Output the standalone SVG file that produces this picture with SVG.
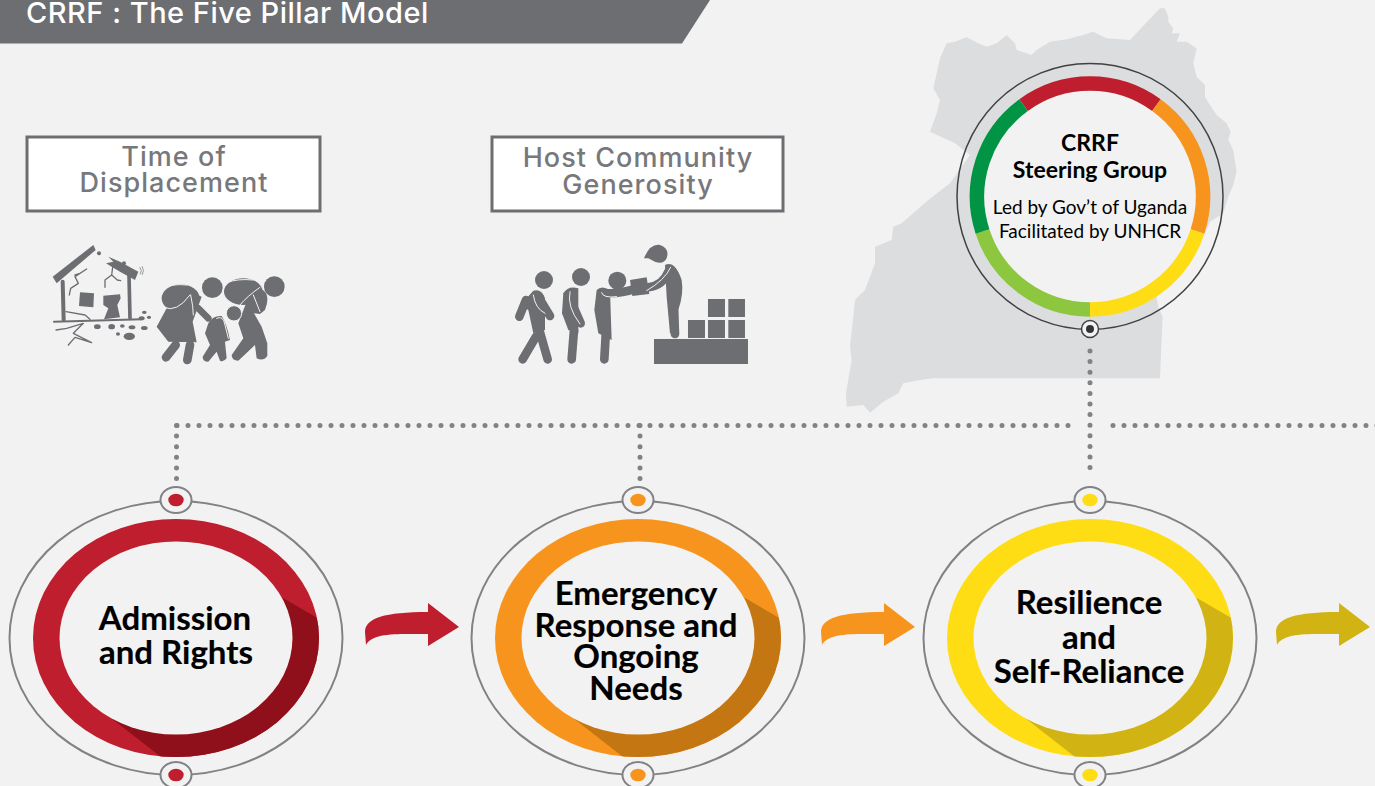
<svg xmlns="http://www.w3.org/2000/svg" width="1375" height="786" viewBox="0 0 1375 786">
<style>
.t{font-family:Lato,"Liberation Sans",sans-serif;font-weight:700;fill:#000;text-anchor:middle}
.big{font-size:33px;stroke:#000;stroke-width:.15px}
.boxt{font-family:Inter,"Liberation Sans",sans-serif;font-weight:500;font-size:27px;fill:#77787b;text-anchor:middle;letter-spacing:1.05px}
.box{fill:#fff;stroke:#6d6e71;stroke-width:3}
.dots{fill:none;stroke:#808285;stroke-width:5;stroke-linecap:round}
.ic{fill:#6d6e71}
.ln{fill:none;stroke:#6d6e71;stroke-linecap:round;stroke-linejoin:round}
.wl{fill:none;stroke:#f2f2f2;stroke-width:3;stroke-linecap:round}
.halo{fill:#f2f2f2;stroke:#808285;stroke-width:2}
.inner{fill:#f2f2f2}
</style>
<defs>
<clipPath id="oc"><ellipse cx="0" cy="0" rx="143" ry="119"/></clipPath>
<g id="pillar">
<ellipse class="halo" cx="0" cy="0" rx="166.500" ry="137"/>
<ellipse cx="0" cy="0" rx="143" ry="119" fill="var(--c)"/>
<polygon points="107,-40 160,-9 160,140 10,138.500 -70,76" clip-path="url(#oc)" fill="var(--d)"/>
<ellipse class="inner" cx="0" cy="0" rx="116.500" ry="96.500"/>
</g>
<g id="pin">
<ellipse class="halo" cx="0" cy="0" rx="15.500" ry="13"/>
<ellipse cx="0" cy="0" rx="7.700" ry="6.300" fill="var(--c)"/>
</g>
<path id="arrow" d="M365 632C365 618 385 612 428 612V603L459 627L428 646V634C400 634 372 632 366 645Z"/>
</defs>
<rect width="1375" height="786" fill="#f2f2f2"/>
<g id="header">
<polygon points="0,0 710,0 682,43.500 0,43.500" fill="#6d6e71"/>
<text x="26" y="23" font-family="Inter,'Liberation Sans',sans-serif" font-weight="500" font-size="29" letter-spacing=".5" fill="#fff">CRRF : The Five Pillar Model</text>
</g>
<g id="map">
<path fill="#dcddde" transform="translate(840 0) scale(.3333)" d="M300 175L320 130L345 125L380 112L415 130L440 140L470 130L500 105L525 130L530 150L575 165L590 150L630 125L680 118L730 105L760 95L800 115L870 120L960 25L975 25L985 50L985 65L1000 85L995 100L1020 100L1010 125L1040 125L1070 145L1060 190L1070 230L1095 255L1095 290L1110 315L1130 345L1160 370L1172 395L1165 420L1180 450L1190 515L1180 555L1165 590L1150 640L1110 665L1095 700L1000 830L950 890L955 920L968 950L960 1135L280 1135L240 1140L190 1150L175 1180L130 1205L90 1238L70 1215L20 1220L18 1180L35 1080L30 1040L45 900L50 895L75 870L105 790L105 740L155 720L160 680L185 670L265 600L330 550L390 465L345 430L270 395L290 340L300 300L280 265Z"/>
</g>
<g id="connectors">
<path class="dots" stroke-dasharray="0 11" d="M177 425.500H1070M1113 425.500H1380"/>
<path class="dots" stroke-dasharray="0 10.600" d="M176.500 425.500V484M640 425.500V484M1090 351V476"/>
</g>
<g id="steering">
<circle cx="1090" cy="196.500" r="133" fill="none" stroke="#414042" stroke-width="1.500"/>
<circle cx="1090" cy="196.500" r="113" fill="#f2f2f2"/>
<g fill="none" stroke-width="14.500">
<path stroke="#be1e2d" d="M1023.600 105.100A113 113 0 0 1 1156.400 105.100"/>
<path stroke="#f7941d" d="M1156.400 105.100A113 113 0 0 1 1197.500 231.400"/>
<path stroke="#ffdd15" d="M1197.500 231.400A113 113 0 0 1 1090 309.500"/>
<path stroke="#8dc63f" d="M1090 309.500A113 113 0 0 1 982.500 231.400"/>
<path stroke="#009444" d="M982.500 231.400A113 113 0 0 1 1023.600 105.100"/>
</g>
<circle cx="1090" cy="329" r="8.500" fill="#f2f2f2" stroke="#414042" stroke-width="1.500"/>
<circle cx="1090" cy="329" r="4" fill="#333"/>
<text class="t" x="1090" y="151" font-size="23">CRRF</text>
<text class="t" x="1090" y="178" font-size="23">Steering Group</text>
<text class="t" x="1090" y="214" font-size="19" style="font-weight:400">Led by Gov’t of Uganda</text>
<text class="t" x="1090" y="238" font-size="19" style="font-weight:400">Facilitated by UNHCR</text>
</g>
<g id="box-time">
<rect class="box" x="27" y="137" width="293" height="74"/>
<text class="boxt" x="174" y="166">Time of</text>
<text class="boxt" x="174" y="192">Displacement</text>
</g>
<g id="box-host">
<rect class="box" x="492" y="137" width="291" height="74"/>
<text class="boxt" x="638" y="167">Host Community</text>
<text class="boxt" x="638" y="194">Generosity</text>
</g>
<g id="icon-displacement" transform="translate(30 230) scale(.3333)">
<polygon class="ic" points="68,140 190,45 197,60 80,160"/>
<polygon class="ic" points="235,80 270,95 325,125 315,150 270,125 245,110 228,100 250,95"/>
<path class="ln" stroke-width="12" d="M98 155L101 270"/>
<path class="ln" stroke-width="11" d="M297 135L300 265"/>
<path class="ln" stroke-width="6" d="M72 275L335 268"/>
<polygon class="ic" points="150,187 192,190 190,232 147,228"/>
<polygon class="ic" points="220,197 270,193 272,205 262,225 270,262 222,268 235,235 220,225"/>
<path class="ln" stroke-width="4" d="M170 117L135 140L145 160L122 175L118 195M135 135L150 130M248 112L245 135L225 150L225 172M245 135L262 150L272 152M108 245L165 255L180 268M78 300L110 295L160 280L130 310L185 338L135 322L115 345"/>
<g class="ic">
<circle cx="207" cy="70" r="6"/><circle cx="282" cy="100" r="6"/>
<ellipse cx="202" cy="290" rx="10" ry="7"/><ellipse cx="245" cy="290" rx="10" ry="8"/><ellipse cx="277" cy="288" rx="7" ry="5"/><ellipse cx="306" cy="292" rx="10" ry="6"/><ellipse cx="343" cy="294" rx="10" ry="6"/><ellipse cx="264" cy="312" rx="6" ry="5"/><ellipse cx="298" cy="319" rx="17" ry="11"/><ellipse cx="343" cy="247" rx="7" ry="5"/><ellipse cx="357" cy="262" rx="6" ry="5"/><ellipse cx="335" cy="265" rx="9" ry="6"/>
</g>
<path class="ln" stroke-width="2" d="M330 112Q338 122 331 132M337 110Q344 122 337 134"/>
<g id="woman">
<ellipse class="ic" cx="452" cy="205" rx="57" ry="42"/>
<circle class="ic" cx="547" cy="173" r="31"/>
<path class="ic" d="M410 235L380 290L415 335L500 337L488 275L515 200L490 190Z"/>
<path class="ln" stroke-width="20" d="M505 235L535 265"/>
<path class="ln" stroke-width="26" d="M437 345L408 382M480 345L472 390"/>
<path class="wl" d="M402 232Q440 250 480 195M482 195Q490 230 490 255M400 175Q425 160 470 165"/>
</g>
<g id="child">
<path class="ic" d="M535 280Q550 255 575 258Q590 280 600 330L585 335L590 385Q580 398 570 392L560 365L535 395Q518 395 518 380L540 345L525 310Z"/>
<path class="wl" d="M560 265Q580 255 585 285L595 325"/>
</g>
<g id="man">
<ellipse class="ic" cx="640" cy="185" rx="58" ry="40"/>
<circle class="ic" cx="733" cy="170" r="31"/>
<path class="ic" d="M650 215L690 175Q725 190 705 240L690 252L672 250L695 290L712 340L712 378Q700 395 680 385L675 345L625 392Q605 392 605 375L640 325L625 280Z"/>
<circle class="ic" cx="612" cy="250" r="23" stroke="#f2f2f2" stroke-width="3"/>
<path class="wl" d="M592 158Q620 145 670 150M630 225Q650 200 690 172M670 195L690 245"/>
</g>
</g>
<g id="icon-host" transform="translate(500 230) scale(.3333)">
<g class="ic">
<circle cx="132" cy="150" r="27"/><circle cx="243" cy="141" r="27"/><circle cx="352" cy="152" r="27"/>
<rect x="462" y="327" width="282" height="75"/>
<rect x="564" y="270" width="51" height="54"/><rect x="624" y="270" width="51" height="54"/><rect x="685" y="270" width="50" height="54"/>
<rect x="624" y="207" width="51" height="54"/><rect x="685" y="207" width="50" height="54"/>
<path d="M432 85Q450 40 480 45Q510 55 500 85Q490 105 465 95L445 85Z"/>
<polygon points="390,150 440,142 448,192 397,198"/>
<path d="M100 182Q125 175 135 205L135 300L100 310L85 240L62 225Z"/>
<path d="M190 190Q205 165 235 175L235 310L205 300L186 250Z"/>
<path d="M290 180Q305 165 330 180L335 330L295 310L283 240Z"/>
<path d="M495 105Q525 90 545 150Q552 190 535 240L535 310L510 310L500 200Z"/>
</g>
<path class="ln" stroke-width="26" d="M118 300L143 388M108 320L68 388M78 210L58 260M115 200L150 258"/>
<path class="ln" stroke-width="26" d="M222 300L215 388M205 195L242 280"/>
<path class="ln" stroke-width="26" d="M318 300L313 388M305 188Q350 195 410 175"/>
<path class="ln" stroke-width="26" d="M522 240L525 312M505 125Q490 165 445 172"/>
<path class="wl" d="M100 195Q105 235 135 250M210 185Q200 230 240 282M305 188Q308 205 350 200M512 112Q495 150 440 182"/>
</g>
<g id="pillar-admission" style="--c:#be1e2d;--d:#8f0f1b">
<use href="#pillar" x="176" y="638"/>
<use href="#pin" x="176" y="500"/>
<use href="#pin" x="176" y="775"/>
<text class="t big" x="175" y="630">Admission</text>
<text class="t big" x="176" y="664">and Rights</text>
</g>
<g id="pillar-emergency" style="--c:#f7941d;--d:#c47612">
<use href="#pillar" x="638" y="638"/>
<use href="#pin" x="638" y="500"/>
<use href="#pin" x="638" y="775"/>
<text class="t big" x="636" y="604.500">Emergency</text>
<text class="t big" x="636" y="636.500">Response and</text>
<text class="t big" x="636" y="668">Ongoing</text>
<text class="t big" x="636" y="699.500">Needs</text>
</g>
<g id="pillar-resilience" style="--c:#ffdd15;--d:#d2b314">
<use href="#pillar" x="1090" y="638"/>
<use href="#pin" x="1090" y="500"/>
<use href="#pin" x="1090" y="775"/>
<text class="t big" x="1089" y="614">Resilience</text>
<text class="t big" x="1089" y="648.500">and</text>
<text class="t big" x="1089" y="683">Self-Reliance</text>
</g>
<g id="arrows">
<use href="#arrow" fill="#be1e2d"/>
<use href="#arrow" fill="#f7941d" x="456"/>
<use href="#arrow" fill="#d2b314" x="911"/>
</g>
</svg>
